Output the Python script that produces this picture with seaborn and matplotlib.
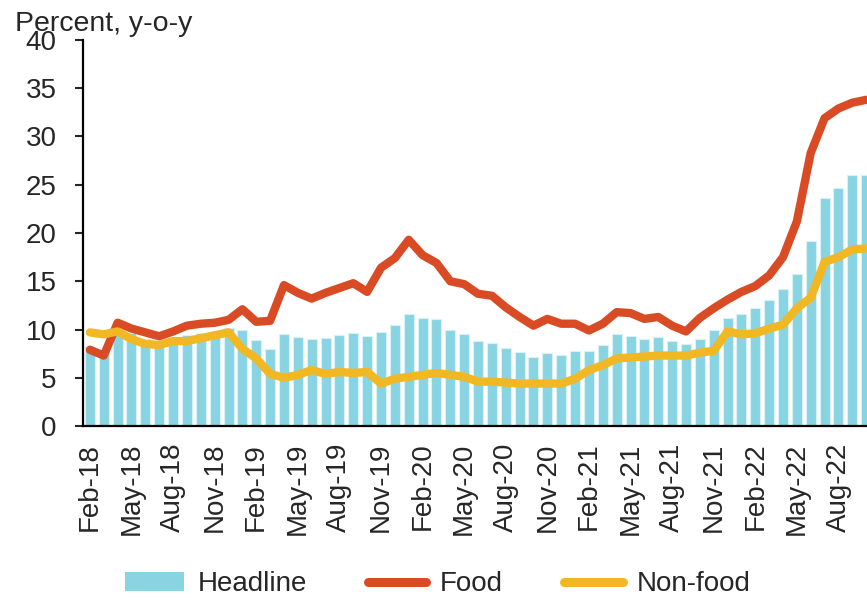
import matplotlib
matplotlib.use("Agg")
import matplotlib.pyplot as plt
import seaborn as sns
import pandas as pd
from matplotlib.patches import Patch
from matplotlib.lines import Line2D

# Месячные данные: Feb-18 ... Oct-22, % г/г
headline = [8.2, 7.9, 9.7, 9.6, 9.0, 8.4, 8.8, 9.4, 9.6, 9.7, 10.2, 10.0,
            8.9, 8.0, 9.5, 9.2, 9.0, 9.1, 9.4, 9.6, 9.3, 9.7, 10.5, 11.6,
            11.2, 11.1, 9.9, 9.5, 8.8, 8.6, 8.1, 7.7, 7.2, 7.6, 7.4, 7.8,
            7.8, 8.4, 9.5, 9.3, 9.0, 9.2, 8.8, 8.5, 9.0, 9.9, 11.2, 11.6,
            12.2, 13.1, 14.2, 15.8, 19.2, 23.6, 24.7, 26.0, 26.0]
food = [7.9, 7.3, 10.7, 10.1, 9.7, 9.3, 9.8, 10.4, 10.6, 10.7, 11.0, 12.1,
        10.8, 10.9, 14.6, 13.8, 13.2, 13.8, 14.3, 14.8, 13.9, 16.4, 17.4, 19.3,
        17.7, 16.9, 15.0, 14.7, 13.7, 13.5, 12.3, 11.3, 10.4, 11.1, 10.6, 10.6,
        9.9, 10.6, 11.8, 11.7, 11.1, 11.3, 10.4, 9.8, 11.2, 12.2, 13.1, 13.9,
        14.5, 15.6, 17.5, 21.2, 28.3, 31.9, 32.9, 33.5, 33.8]
non_food = [9.7, 9.5, 9.8, 9.0, 8.5, 8.4, 8.8, 8.8, 9.1, 9.4, 9.7, 8.0,
            7.0, 5.4, 5.0, 5.3, 5.8, 5.4, 5.6, 5.5, 5.6, 4.4, 4.9, 5.1,
            5.3, 5.5, 5.3, 5.1, 4.6, 4.6, 4.5, 4.4, 4.4, 4.4, 4.4, 4.9,
            5.8, 6.3, 7.0, 7.1, 7.2, 7.3, 7.3, 7.3, 7.6, 7.8, 9.8, 9.5,
            9.6, 10.1, 10.5, 12.2, 13.3, 17.0, 17.5, 18.3, 18.4]
tick_labels = ['Feb-18', 'May-18', 'Aug-18', 'Nov-18', 'Feb-19', 'May-19',
               'Aug-19', 'Nov-19', 'Feb-20', 'May-20', 'Aug-20', 'Nov-20',
               'Feb-21', 'May-21', 'Aug-21', 'Nov-21', 'Feb-22', 'May-22',
               'Aug-22']

c_head = '#89d4e2'
c_food = '#d94b24'
c_nonfood = '#f1b823'

df = pd.DataFrame({'idx': range(len(headline)), 'Headline': headline,
                   'Food': food, 'Non-food': non_food})

sns.set_style('white')
plt.rcParams['font.family'] = ['Liberation Sans', 'DejaVu Sans']

fig = plt.figure(figsize=(8.67, 6.03), dpi=100)
ax = fig.add_axes([0.0957, 0.2935, 0.9043, 0.6402])

sns.barplot(data=df, x='idx', y='Headline', color=c_head, width=0.72,
            edgecolor='#d8f1f5', linewidth=0.8, saturation=1, ax=ax)
sns.lineplot(data=df, x='idx', y='Food', color=c_food, linewidth=6,
             solid_capstyle='round', solid_joinstyle='round', ax=ax)
sns.lineplot(data=df, x='idx', y='Non-food', color=c_nonfood, linewidth=6,
             solid_capstyle='round', solid_joinstyle='round', ax=ax)

ax.set_xlim(-0.5, 56.06)
ax.set_ylim(0, 40)
ax.set_yticks(range(0, 41, 5))
ax.set_xticks(range(0, len(headline), 3))
ax.set_xticklabels(tick_labels, rotation=90)
ax.set_xlabel('')
ax.set_ylabel('')
ax.tick_params(axis='y', length=6, width=1.5, pad=13, labelsize=20, left=True)
ax.tick_params(axis='x', length=0, pad=12, labelsize=20)
for s in ['top', 'right']:
    ax.spines[s].set_visible(False)
for s in ['left', 'bottom']:
    ax.spines[s].set_color('black')
    ax.spines[s].set_linewidth(1.6)

fig.text(15 / 867, 1 - 11 / 603, 'Percent, y-o-y', fontsize=20.5, ha='left', va='top')

handles = [Patch(facecolor=c_head, edgecolor='none'),
           Line2D([0], [0], color=c_food, lw=6.5, solid_capstyle='round'),
           Line2D([0], [0], color=c_nonfood, lw=6.5, solid_capstyle='round')]
fig.legend(handles, ['Headline', 'Food', 'Non-food'], loc='lower center',
           bbox_to_anchor=(0.505, -0.032), ncol=3, frameon=False, fontsize=20,
           handlelength=2.1, handletextpad=0.5, columnspacing=2.2)

fig.savefig('out.png', dpi=100)
